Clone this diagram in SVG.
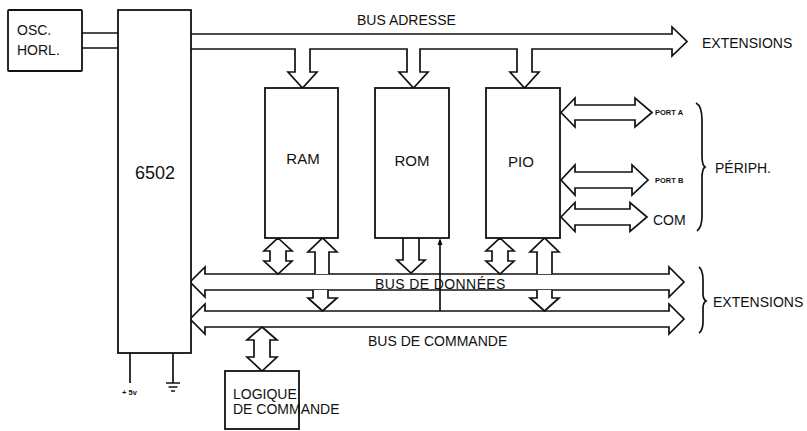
<svg xmlns="http://www.w3.org/2000/svg" width="807" height="431" viewBox="0 0 807 431">
<style>
.ln{fill:none;stroke:#111;stroke-width:1.7;stroke-linejoin:miter}
.ar{fill:#fff;stroke:#111;stroke-width:1.7;stroke-linejoin:miter}
.bx{fill:#fff;stroke:#111;stroke-width:1.8}
text{font-family:"Liberation Sans",Arial,sans-serif;fill:#111;font-size:14px}
.big{font-size:15px}
.cpu{font-size:18px}
.sm{font-size:7.5px;font-weight:bold}
</style>
<rect width="807" height="431" fill="#fff"/>
<g id="connectors">
  <path class="ln" d="M82,33 H118 M82,48 H118"/>
  <path class="ar" d="M191,34 H672 V27 L687,41.5 L672,56 V49 H532 V72 H539 L524.5,88 L510,72 H517 V49 H420 V72 H428 L413.5,88 L399,72 H407 V49 H310 V72 H317 L302.5,88 L288,72 H295 V49 H191"/>
  <path class="ar" d="M190,282 L205,267 V274 H669 V267 L684,282 L669,297 V290 H205 V297 Z"/>
  <path class="ar" d="M190,319 L205,304 V311 H669 V304 L684,319 L669,334 V327 H205 V334 Z"/>
  <path class="ar" d="M561,112.5 L575,98 V105 H635 V98 L652,112.5 L635,127 V120 H575 V127 Z"/>
  <path class="ar" d="M561,180 L575,165 V172 H632 V165 L648,180 L632,195 V188 H575 V195 Z"/>
  <path class="ar" d="M561,217 L575,202.5 V209 H630 V202.5 L647,217 L630,231.5 V225 H575 V231.5 Z"/>
  <path class="ar" d="M278,238 L292,251 H286 V261 H292 L278,274 L264,261 H270 V251 H264 Z"/>
  <path class="ar" d="M315,274 V252 H308 L322.5,238 L337,252 H329 V274"/>
  <path class="ar" d="M313,290 V298 H308 L322.5,311 L337,298 H328 V290"/>
  <path class="ar" d="M403,238 V260 H397 L411,273 L425,260 H419 V238"/>
  <path class="ln" d="M440,311 V240"/>
  <path d="M440,238 L437.5,245 H442.5 Z" fill="#111"/>
  <path class="ar" d="M500,238 L514,251 H508 V261 H514 L500,274 L486,261 H492 V251 H486 Z"/>
  <path class="ar" d="M537,274 V252 H530 L544.5,238 L559,252 H552 V274"/>
  <path class="ar" d="M537,290 V298 H530 L544.5,311 L559,298 H552 V290"/>
  <path class="ar" d="M262,327 L277,340 H270 V357 H277 L262,371 L247,357 H254 V340 H247 Z"/>
  <path class="ln" d="M130,353 V383 M173,353 V383 M166,383 H180 M168.5,387 H177.5 M171,391 H175"/>
  <path class="ln" d="M696,103 Q702,106 702,120 V156 Q702,165 705,167 Q702,169 702,178 V216 Q702,227 697,231" stroke-width="1.4"/>
  <path class="ln" d="M699,267 Q703,270 703,280 V294 Q703,299 706,301 Q703,303 703,308 V322 Q703,330 699,333" stroke-width="1.4"/>
</g>
<g id="osc"><rect class="bx" x="8" y="10" width="74" height="61" rx="1"/><text x="17" y="35">OSC.</text><text x="17" y="55">HORL.</text></g>
<g id="cpu"><rect class="bx" x="118" y="10" width="73" height="343"/><text class="cpu" x="155" y="179" text-anchor="middle">6502</text></g>
<g id="ram"><rect class="bx" x="265" y="88" width="73" height="150"/><text class="big" x="303" y="164" text-anchor="middle">RAM</text></g>
<g id="rom"><rect class="bx" x="375" y="88" width="74" height="150"/><text class="big" x="412" y="166" text-anchor="middle">ROM</text></g>
<g id="pio"><rect class="bx" x="486" y="88" width="74" height="150"/><text class="big" x="521" y="167" text-anchor="middle">PIO</text></g>
<g id="logique"><rect class="bx" x="225" y="371" width="74" height="58"/><text x="233" y="399">LOGIQUE</text><text x="233" y="414">DE COMMANDE</text></g>
<g id="labels">
  <text x="357" y="25">BUS ADRESSE</text>
  <text x="702" y="48">EXTENSIONS</text>
  <text x="375" y="289" letter-spacing="0.4">BUS DE DONNÉES</text>
  <text x="368" y="346">BUS DE COMMANDE</text>
  <text x="713" y="307">EXTENSIONS</text>
  <text x="715" y="173">PÉRIPH.</text>
  <text x="653" y="225">COM</text>
  <text class="sm" x="655" y="115">PORT A</text>
  <text class="sm" x="655" y="183">PORT B</text>
  <text class="sm" x="122" y="395">+ 5v</text>
</g>
</svg>
